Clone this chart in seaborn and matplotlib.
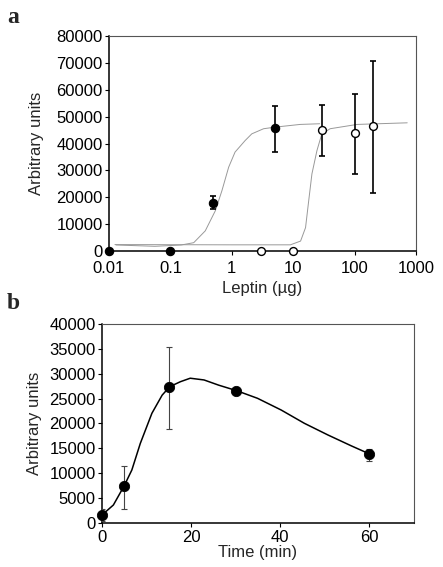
import numpy as np
import pandas as pd
import matplotlib
matplotlib.use("Agg")
import matplotlib.pyplot as plt
import seaborn as sns

sns.set_style("ticks")
plt.rcParams['font.family'] = ['Liberation Sans', 'DejaVu Sans']

# Panel a: dose response (filled = first series, open = second series)
filled_x = [0.01, 0.1, 0.5, 5]
filled_y = [0, 0, 18000, 45700]
filled_lo = [0, 0, 15600, 37000]
filled_hi = [0, 0, 20300, 53800]

open_x = [3, 10, 30, 100, 200]
open_y = [0, 0, 45100, 43900, 46600]
open_lo = [0, 0, 35500, 28800, 21700]
open_hi = [0, 0, 54500, 58300, 70700]

# fitted curves
fit1_x = [0.013, 0.056, 0.15, 0.24, 0.37, 0.54, 0.69, 0.89, 1.13, 1.65, 2.12, 3.3, 5.1, 13, 27]
fit1_y = [2240, 1750, 2240, 3100, 7500, 15000, 22400, 31200, 36800, 41100, 43600, 45500, 46100, 47100, 47350]
fit2_x = [0.0125, 1, 9, 13.2, 15.9, 17.9, 20.2, 24.4, 29.3, 40, 110, 720]
fit2_y = [2400, 2300, 2300, 3700, 8700, 18700, 28700, 37400, 43600, 45500, 47100, 47700]

# Panel b: time course
time_x = [0, 5, 15, 30, 60]
time_y = [1600, 7400, 27400, 26600, 13800]
time_lo = [400, 2850, 18850, 26600, 12500]
time_hi = [2800, 11550, 35450, 26600, 14800]

curve_t = [0, 2.56, 4.96, 6.7, 8.6, 11.2, 13.5, 15.2, 17.6, 19.8, 22.9, 26.2,
           30.2, 34.9, 40.2, 45.4, 50.7, 56, 60.2]
curve_v = [1600, 3620, 7440, 10650, 16000, 22050, 25700, 27400, 28400, 29100, 28750, 27700,
           26600, 25060, 22710, 20040, 17690, 15480, 13810]

fig = plt.figure(figsize=(4.43, 5.67), dpi=100)
ax1 = fig.add_axes([0.246, 0.5573, 0.693, 0.3792])
ax2 = fig.add_axes([0.2302, 0.0776, 0.7043, 0.351])

fs = 12

# ---- panel a ----
sns.lineplot(x=fit1_x, y=fit1_y, ax=ax1, color='#999999', lw=0.7, sort=False, estimator=None)
sns.lineplot(x=fit2_x, y=fit2_y, ax=ax1, color='#999999', lw=0.7, sort=False, estimator=None)

for xs, ys, lo, hi in [(filled_x, filled_y, filled_lo, filled_hi), (open_x, open_y, open_lo, open_hi)]:
    ys = np.array(ys)
    yerr = [ys - np.array(lo), np.array(hi) - ys]
    ax1.errorbar(xs, ys, yerr=yerr, fmt='none', ecolor='black', elinewidth=1.2,
                 capsize=2.5, capthick=1.2, zorder=3)

sns.scatterplot(x=filled_x, y=filled_y, ax=ax1, color='black', s=36, edgecolor='black',
                linewidth=0.8, zorder=4, clip_on=False)
sns.scatterplot(x=open_x, y=open_y, ax=ax1, color='white', s=32, edgecolor='black',
                linewidth=1.0, zorder=4, clip_on=False)

ax1.set_xscale('log')
ax1.set_xlim(0.01, 1000)
ax1.set_ylim(0, 80000)
ax1.set_xticks([0.01, 0.1, 1, 10, 100, 1000])
ax1.set_xticklabels(['0.01', '0.1', '1', '10', '100', '1000'])
ax1.minorticks_off()
ax1.set_yticks(np.arange(0, 80001, 10000))
ax1.set_xlabel('Leptin (\u00b5g)', fontsize=fs, labelpad=4)
ax1.set_ylabel('Arbitrary units', fontsize=fs, labelpad=9)

# ---- panel b ----
t = np.array(time_y)
ax2.errorbar(time_x, time_y, yerr=[t - np.array(time_lo), np.array(time_hi) - t], fmt='none',
             ecolor='#444444', elinewidth=0.8, capsize=2, capthick=0.8, zorder=3)
sns.lineplot(x=curve_t, y=curve_v, ax=ax2, color='black', lw=1.1, sort=False, estimator=None)
sns.scatterplot(x=time_x, y=time_y, ax=ax2, color='black', s=55, edgecolor='black',
                zorder=4, clip_on=False)
ax2.set_xlim(0, 70)
ax2.set_ylim(0, 40000)
ax2.set_xticks([0, 20, 40, 60])
ax2.set_yticks(np.arange(0, 40001, 5000))
ax2.set_xlabel('Time (min)', fontsize=fs, labelpad=0)
ax2.set_ylabel('Arbitrary units', fontsize=fs, labelpad=5)

for ax in (ax1, ax2):
    ax.tick_params(labelsize=fs, length=3, width=0.8, colors='black')
    ax.tick_params(axis='y', pad=1.5)
    for side in ('left', 'bottom'):
        ax.spines[side].set_color('black')
        ax.spines[side].set_linewidth(1.1)
    for side in ('top', 'right'):
        ax.spines[side].set_visible(True)
        ax.spines[side].set_color('#555555')
        ax.spines[side].set_linewidth(0.8)
ax1.tick_params(axis='x', pad=4)
ax2.tick_params(axis='x', pad=2)

# panel letters
fig.text(7 / 443, 1 - 28 / 567, 'a', fontsize=17, fontweight='bold',
         family='Liberation Serif', va='bottom', ha='left')
fig.text(7 / 443, 1 - 314 / 567, 'b', fontsize=17, fontweight='bold',
         family='Liberation Serif', va='bottom', ha='left')

fig.savefig('out.png', dpi=100)
